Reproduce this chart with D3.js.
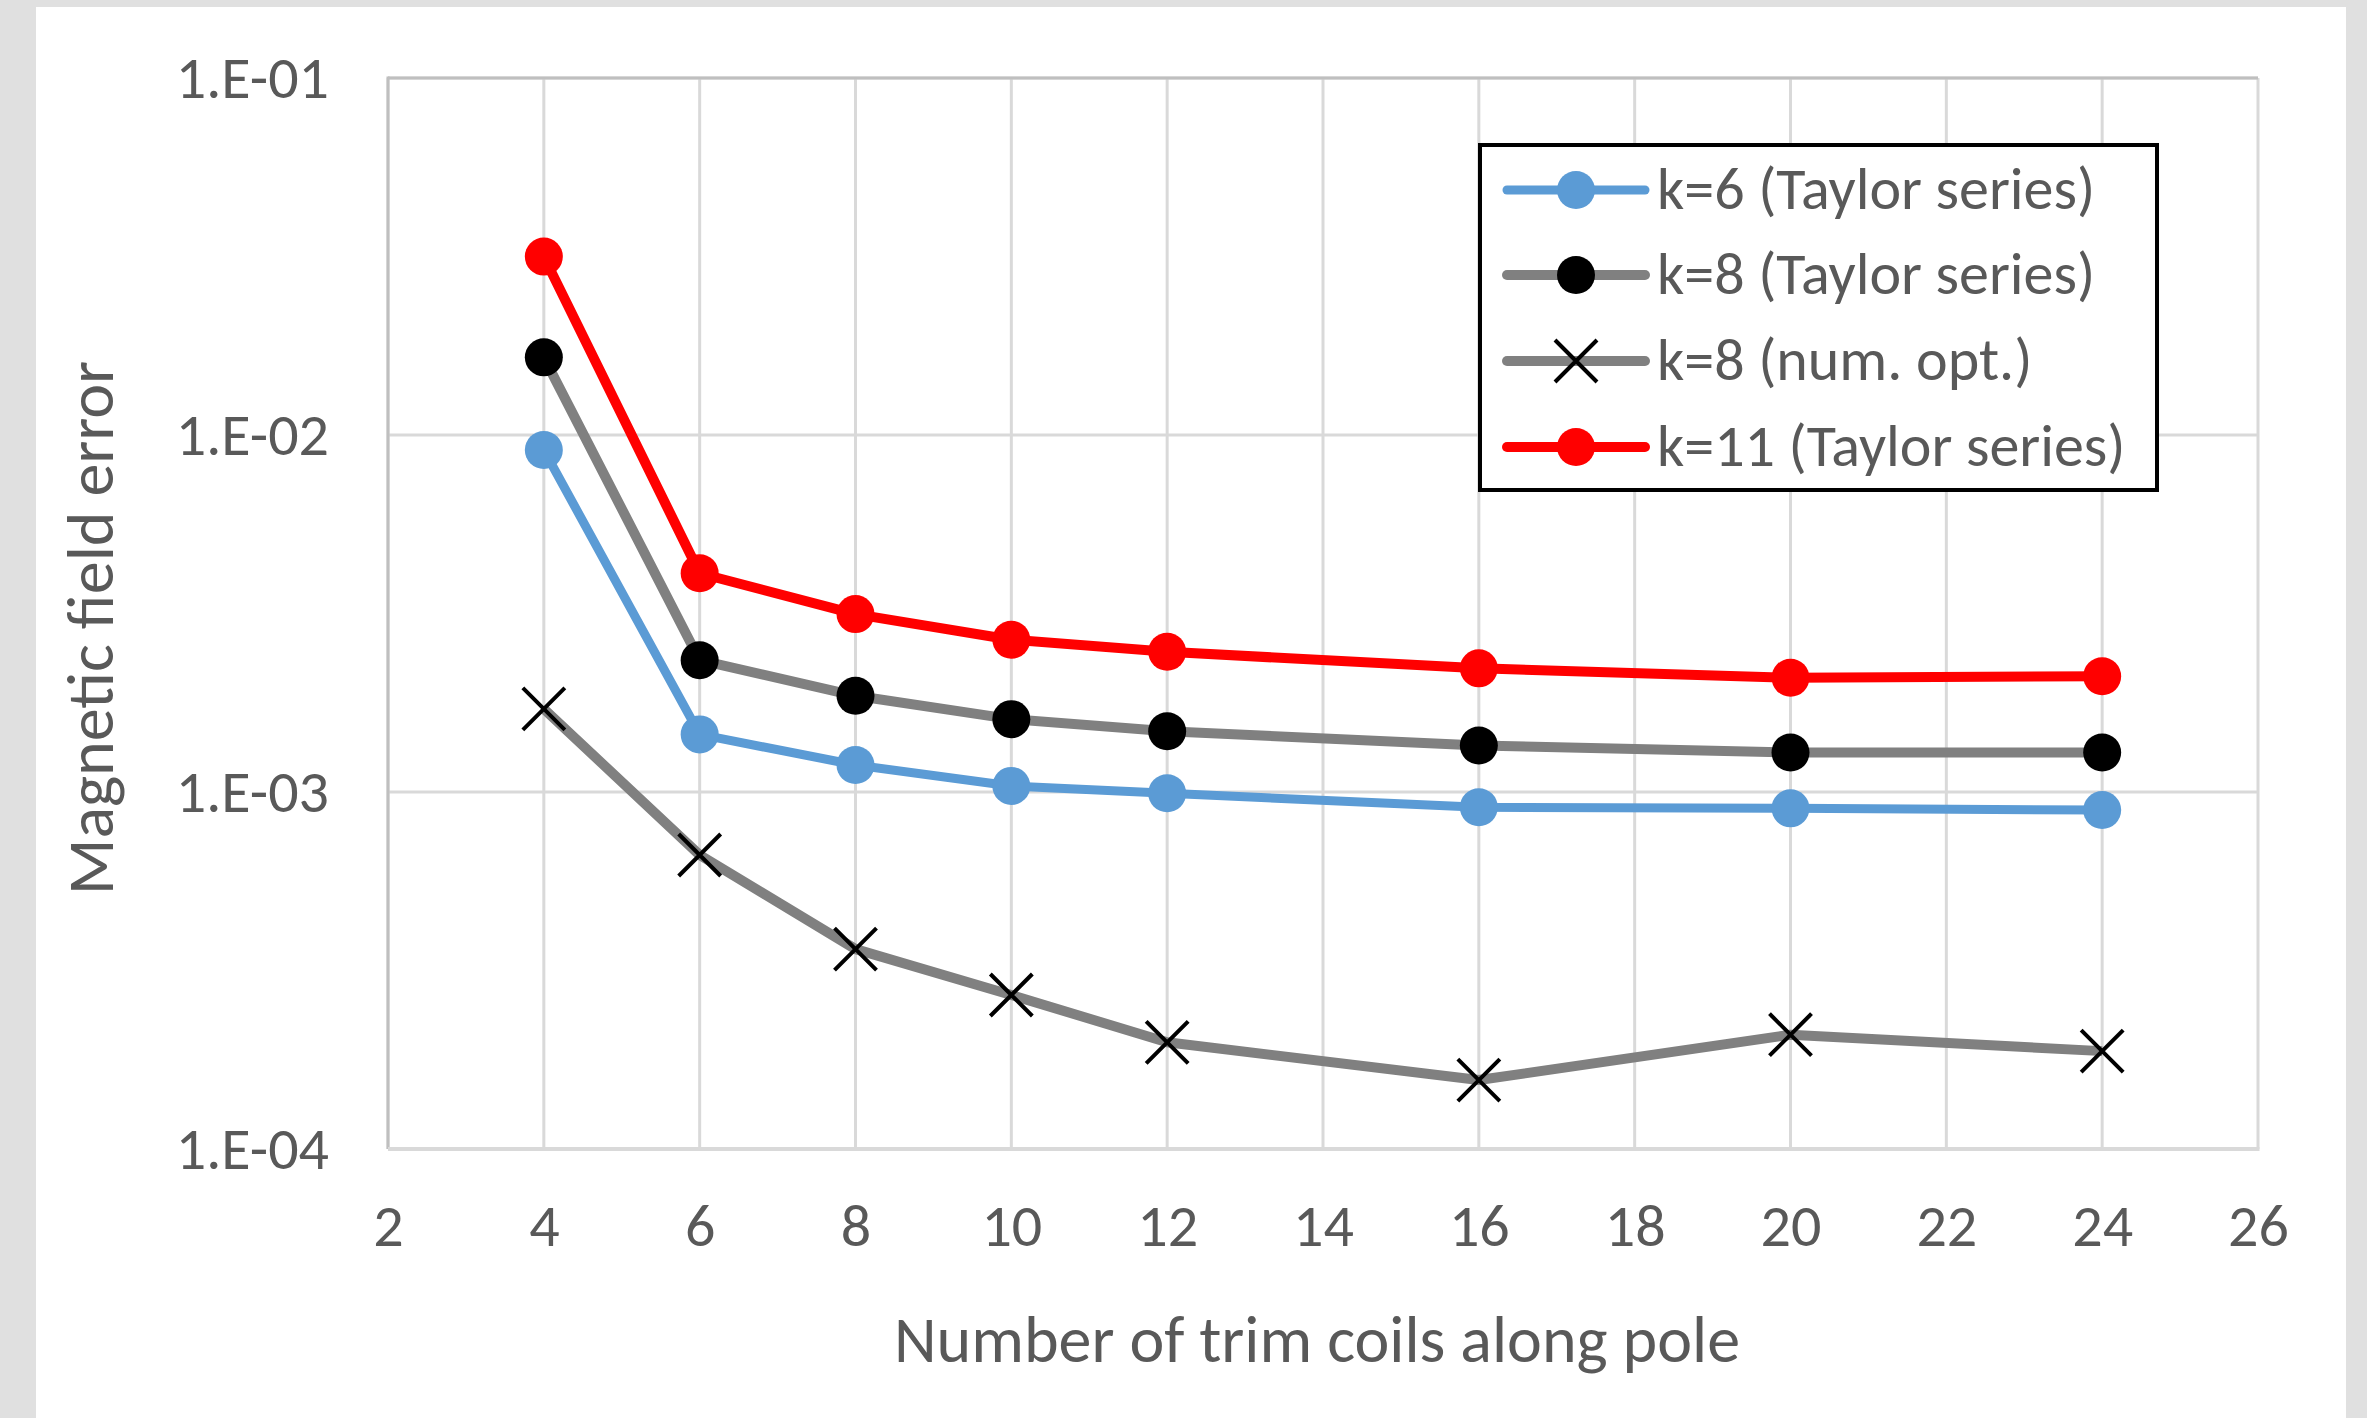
<!DOCTYPE html>
<html>
<head>
<meta charset="utf-8">
<script src="https://cdn.jsdelivr.net/npm/d3@7"></script>
<style>
  html, body { margin: 0; padding: 0; background: #e0e0e0; }
  svg { display: block; }
  text { font-family: Carlito, Calibri, Lato, sans-serif; fill: #595959; }
</style>
</head>
<body>
<svg id="chart" width="2367" height="1418"></svg>
<script>
// Number of trim coils along the pole
const coils = [4, 6, 8, 10, 12, 16, 20, 24];

// Magnetic field error for each configuration
const k6Taylor  = [0.00908, 0.00145, 0.00119, 0.00104, 0.000992, 0.000906, 0.00090, 0.00089];
const k8Taylor  = [0.0165, 0.00234, 0.00186, 0.00160, 0.00148, 0.00135, 0.00129, 0.00129];
const k8NumOpt  = [0.00171, 0.000666, 0.000363, 0.000270, 0.000199, 0.000156, 0.000209, 0.000188];
const k11Taylor = [0.0316, 0.00410, 0.00315, 0.00267, 0.00247, 0.00222, 0.00209, 0.00211];

const seriesNames = ["k=6 (Taylor series)", "k=8 (Taylor series)", "k=8 (num. opt.)", "k=11 (Taylor series)"];

const xTicks = [2, 4, 6, 8, 10, 12, 14, 16, 18, 20, 22, 24, 26];
const yTicks = [1e-4, 1e-3, 1e-2, 1e-1];
const yTickLabels = ["1.E-04", "1.E-03", "1.E-02", "1.E-01"];

const xTitle = "Number of trim coils along pole";
const yTitle = "Magnetic field error";

const series = [
  { name: seriesNames[0], values: k6Taylor,  line: "#5b9bd5", width: 9,  marker: "circle", fill: "#5b9bd5" },
  { name: seriesNames[1], values: k8Taylor,  line: "#808080", width: 10, marker: "circle", fill: "#000000" },
  { name: seriesNames[2], values: k8NumOpt,  line: "#808080", width: 10, marker: "cross",  fill: "#000000" },
  { name: seriesNames[3], values: k11Taylor, line: "#ff0000", width: 10, marker: "circle", fill: "#ff0000" }
];

const tickFont = "60px";
const titleFont = "66px";

const svg = d3.select("#chart");

// chart card
svg.append("rect").attr("x", 36).attr("y", 7).attr("width", 2310).attr("height", 1420).attr("fill", "#ffffff");

const plot = { left: 388, right: 2258, top: 78, bottom: 1149 };

const x = d3.scaleLinear().domain([2, 26]).range([plot.left, plot.right]);
const y = d3.scaleLog().domain([1e-4, 1e-1]).range([plot.bottom, plot.top]);

// gridlines
const grid = svg.append("g");
grid.selectAll("line.vx").data(xTicks).join("line")
  .attr("x1", d => x(d)).attr("x2", d => x(d))
  .attr("y1", plot.top).attr("y2", plot.bottom)
  .attr("stroke", "#d9d9d9").attr("stroke-width", 3);
grid.selectAll("line.hy").data(yTicks).join("line")
  .attr("x1", plot.left).attr("x2", plot.right)
  .attr("y1", d => y(d)).attr("y2", d => y(d))
  .attr("stroke", "#d9d9d9").attr("stroke-width", 3);

// plot-area frame: darker on the left and top edges
svg.append("line").attr("x1", plot.left).attr("x2", plot.left).attr("y1", plot.top - 1.5).attr("y2", plot.bottom)
  .attr("stroke", "#bfbfbf").attr("stroke-width", 3);
svg.append("line").attr("x1", plot.left).attr("x2", plot.right).attr("y1", plot.top).attr("y2", plot.top)
  .attr("stroke", "#bfbfbf").attr("stroke-width", 3);
svg.append("line").attr("x1", plot.left).attr("x2", plot.right + 1.5).attr("y1", plot.bottom).attr("y2", plot.bottom)
  .attr("stroke", "#d9d9d9").attr("stroke-width", 4);

// axes (labels only, domain and tick lines hidden)
const xAxis = svg.append("g").attr("transform", `translate(0,${plot.bottom})`)
  .call(d3.axisBottom(x).tickValues(xTicks).tickSize(0).tickPadding(0).tickFormat(d3.format("d")));
xAxis.select(".domain").remove();
xAxis.selectAll("text").attr("y", 97).attr("dy", null)
  .style("font-size", tickFont).style("font-family", "Carlito, Calibri, Lato, sans-serif").attr("fill", "#595959");

const yAxis = svg.append("g").attr("transform", `translate(${plot.left},0)`)
  .call(d3.axisLeft(y).tickValues(yTicks).tickSize(0).tickFormat((d, i) => yTickLabels[i]));
yAxis.select(".domain").remove();
yAxis.selectAll("text").attr("x", 329 - plot.left).attr("dy", "0.32em")
  .style("font-size", tickFont).style("font-family", "Carlito, Calibri, Lato, sans-serif").attr("fill", "#595959");

// axis titles
svg.append("text").attr("x", 1317).attr("y", 1362)
  .attr("text-anchor", "middle").style("font-size", titleFont).text(xTitle);
svg.append("text").attr("transform", "translate(91,628) rotate(-90)")
  .attr("text-anchor", "middle").attr("dy", "0.33em").style("font-size", titleFont).text(yTitle);

// series lines and markers
const lineGen = d3.line().x((d, i) => x(coils[i])).y(d => y(d));

function drawMarker(g, s, cx, cy) {
  if (s.marker === "circle") {
    g.append("circle").attr("cx", cx).attr("cy", cy).attr("r", 19).attr("fill", s.fill);
  } else {
    const h = 21;
    g.append("path")
      .attr("d", `M${cx - h},${cy - h}L${cx + h},${cy + h}M${cx - h},${cy + h}L${cx + h},${cy - h}`)
      .attr("stroke", s.fill).attr("stroke-width", 4).attr("fill", "none");
  }
}

const seriesG = svg.append("g");
series.forEach(s => {
  const g = seriesG.append("g");
  g.append("path").datum(s.values).attr("d", lineGen)
    .attr("fill", "none").attr("stroke", s.line).attr("stroke-width", s.width)
    .attr("stroke-linejoin", "round");
  s.values.forEach((v, i) => drawMarker(g, s, x(coils[i]), y(v)));
});

// legend
const legend = svg.append("g");
legend.append("rect").attr("x", 1480).attr("y", 145).attr("width", 677).attr("height", 345)
  .attr("fill", "#ffffff").attr("stroke", "#000000").attr("stroke-width", 4);
const rowY = [190, 275, 361, 447];
series.forEach((s, i) => {
  const ry = rowY[i];
  const g = legend.append("g");
  g.append("line").attr("x1", 1507).attr("x2", 1645).attr("y1", ry).attr("y2", ry)
    .attr("stroke", s.line).attr("stroke-width", s.width).attr("stroke-linecap", "round");
  drawMarker(g, s, 1576, ry);
  g.append("text").attr("x", 1657).attr("y", ry + 19).style("font-size", tickFont).text(s.name);
});
</script>
</body>
</html>
